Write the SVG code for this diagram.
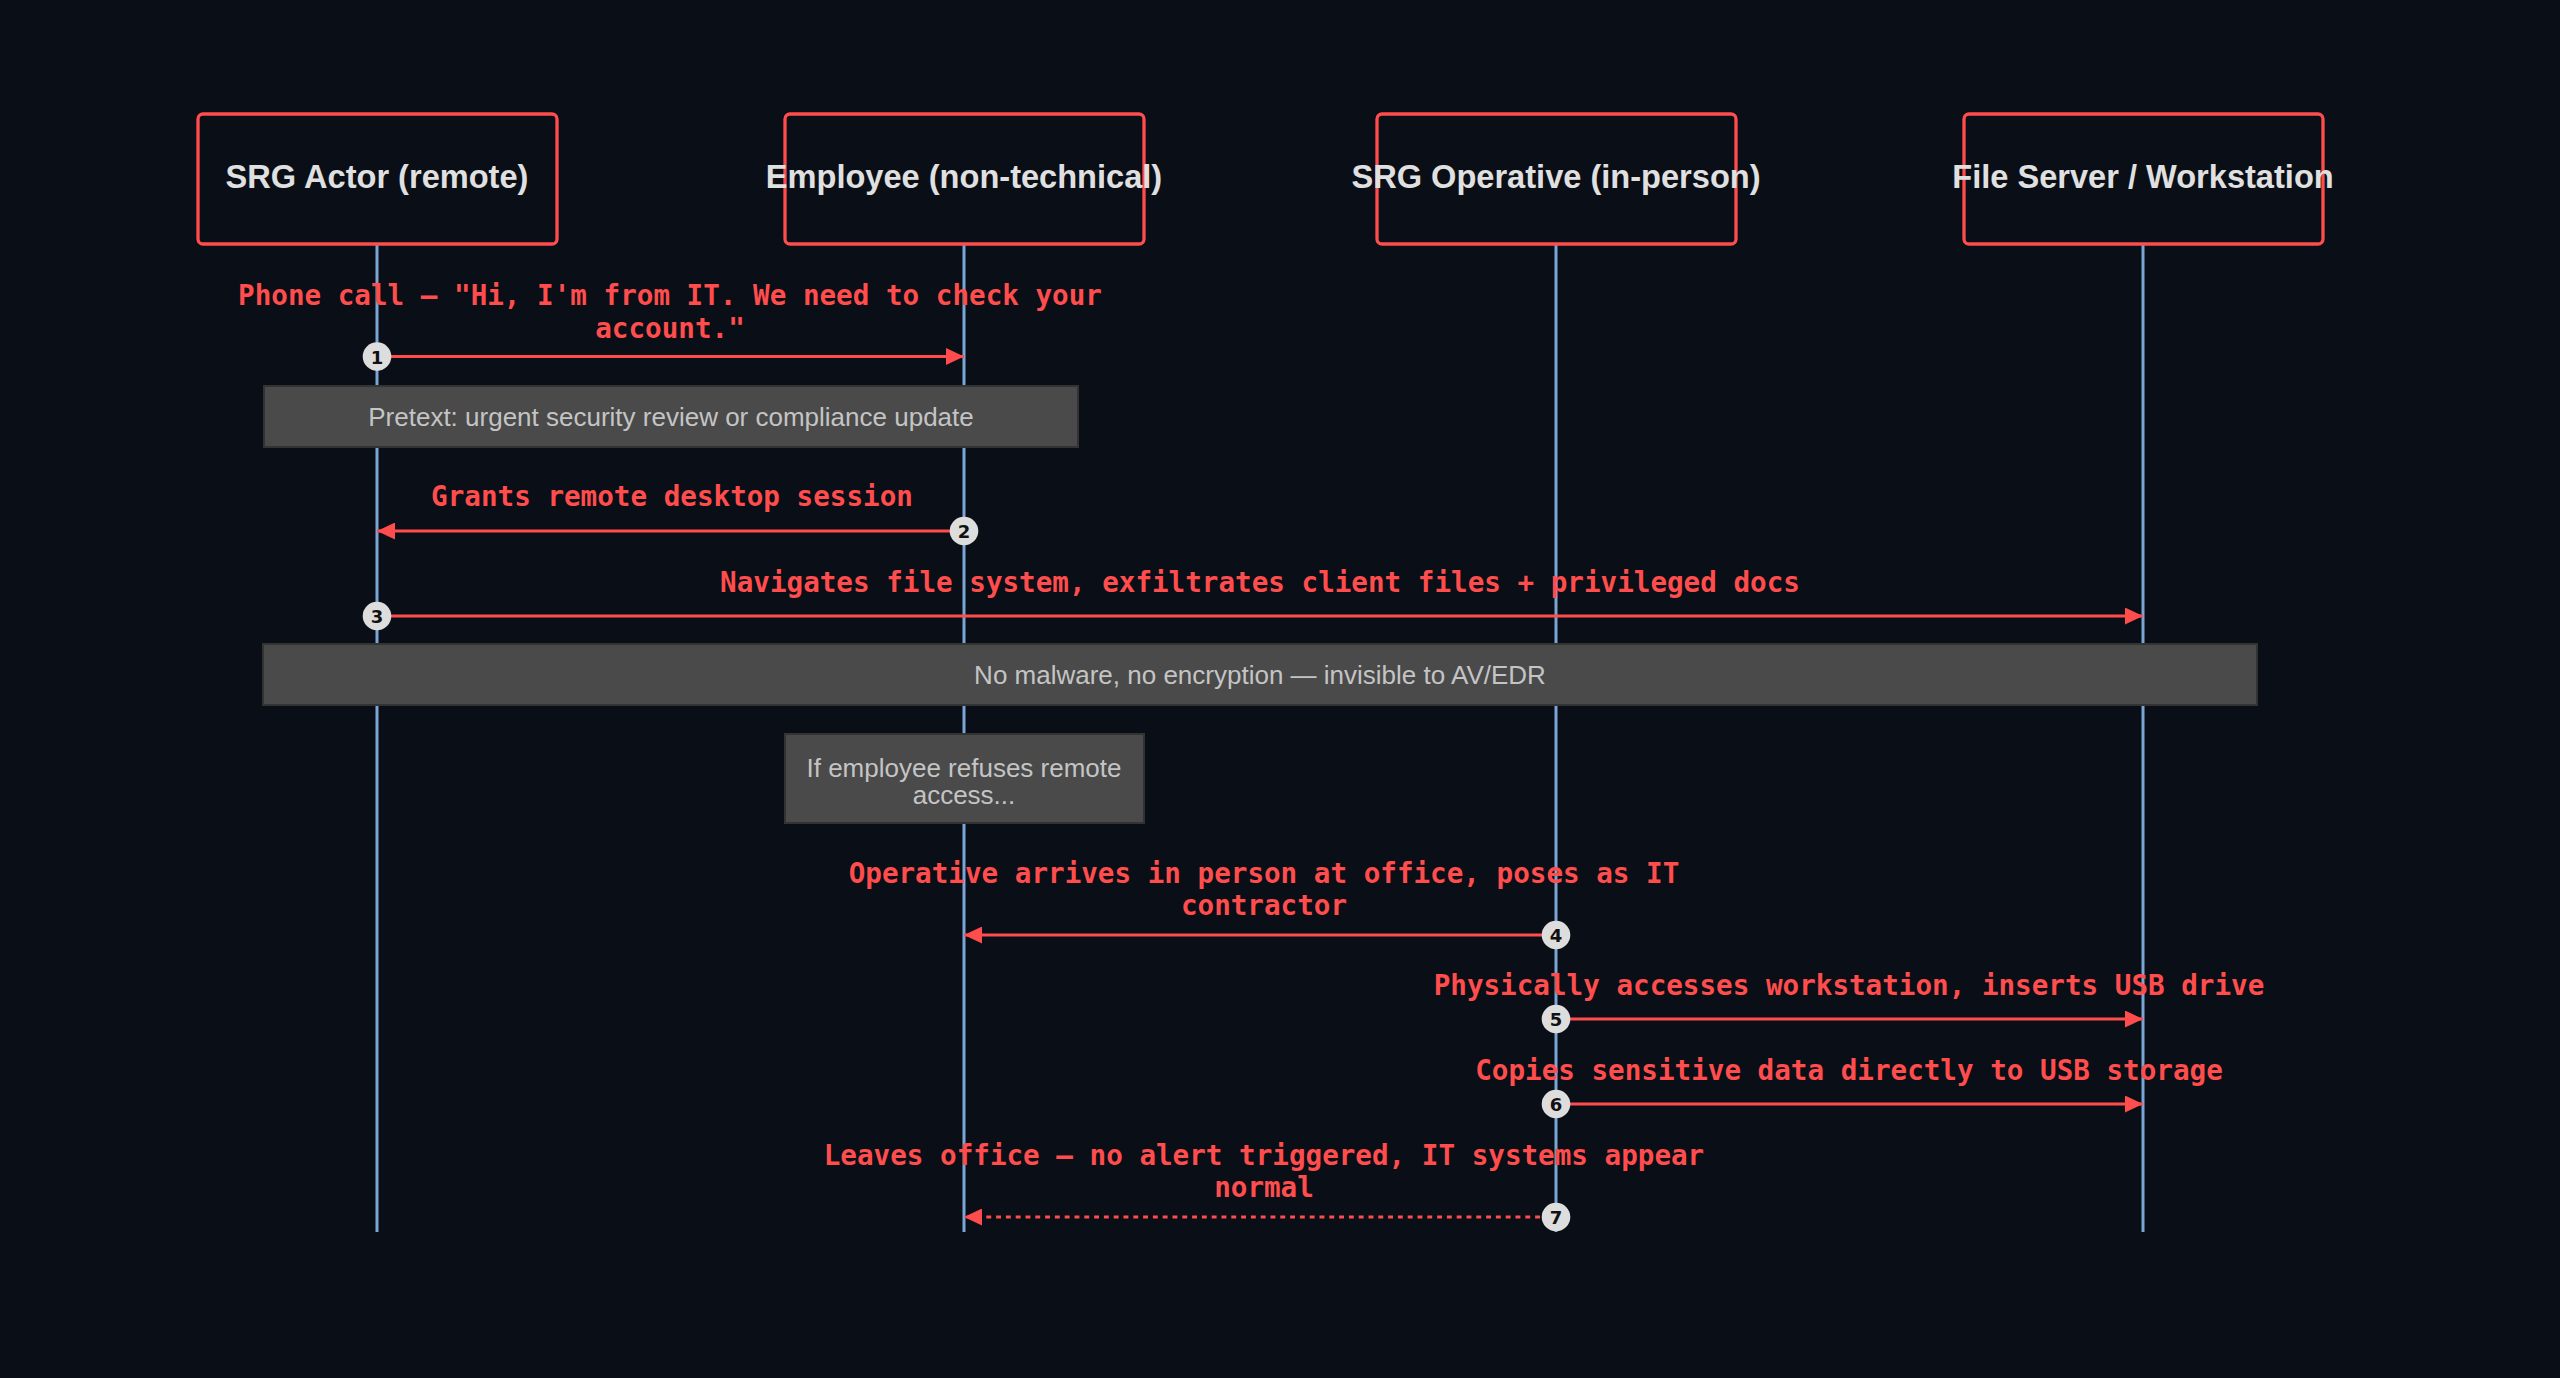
<svg xmlns="http://www.w3.org/2000/svg" width="2560" height="1378" viewBox="0 0 2560 1378">
<defs>
<style>
.bg{fill:#0a0e16}
.actor rect{fill:#0a0e16;stroke:#ff4d4d;stroke-width:3.3}
.actor text{font-family:"Liberation Sans",Arial,sans-serif;font-weight:bold;font-size:32.6px;fill:#e0e0e0;text-anchor:middle;dominant-baseline:central}
.life{stroke:#7aa6d6;stroke-width:3}
.msg{stroke:#ff4d4d;stroke-width:3;fill:none}
.dotted{stroke-dasharray:4.9,4.9}
.mtext{font-family:"DejaVu Sans Mono","Liberation Mono",monospace;font-weight:bold;font-size:27.6px;fill:#ff4d4d;text-anchor:middle;dominant-baseline:central}
.note rect{fill:#4a4a4a;stroke:#333333;stroke-width:2}
.note text{font-family:"Liberation Sans",Arial,sans-serif;font-size:26px;fill:#c4c4c4;text-anchor:middle;dominant-baseline:central}
.seq circle{fill:#dddddd}
.seq text{font-family:"DejaVu Sans","Liberation Sans",sans-serif;font-weight:bold;font-size:18px;fill:#111111;text-anchor:middle;dominant-baseline:central}
</style>
<marker id="ah" markerUnits="userSpaceOnUse" markerWidth="18" markerHeight="17" refX="18" refY="8.5" orient="auto">
<path d="M0,0 L18,8.5 L0,17 z" fill="#ff4d4d"/>
</marker>
</defs>
<rect class="bg" x="0" y="0" width="2560" height="1378"/>
<g id="lifelines">
<line class="life" x1="377" y1="244" x2="377" y2="1232"/>
<line class="life" x1="964" y1="244" x2="964" y2="1232"/>
<line class="life" x1="1556" y1="244" x2="1556" y2="1232"/>
<line class="life" x1="2143" y1="244" x2="2143" y2="1232"/>
</g>
<g id="actor-srg" class="actor"><rect x="198" y="114" width="359" height="130" rx="5"/><text x="377" y="176">SRG Actor (remote)</text></g>
<g id="actor-employee" class="actor"><rect x="785" y="114" width="359" height="130" rx="5"/><text x="964" y="176">Employee (non-technical)</text></g>
<g id="actor-operative" class="actor"><rect x="1377" y="114" width="359" height="130" rx="5"/><text x="1556" y="176">SRG Operative (in-person)</text></g>
<g id="actor-fileserver" class="actor"><rect x="1964" y="114" width="359" height="130" rx="5"/><text x="2143" y="176">File Server / Workstation</text></g>
<g id="note-pretext" class="note"><rect x="264" y="386" width="814" height="61"/><text x="671" y="417">Pretext: urgent security review or compliance update</text></g>
<g id="note-nomalware" class="note"><rect x="263" y="644" width="1994" height="61"/><text x="1260" y="675">No malware, no encryption — invisible to AV/EDR</text></g>
<g id="note-refuses" class="note"><rect x="785" y="734" width="359" height="89"/><text x="964" y="768">If employee refuses remote</text><text x="964" y="795">access...</text></g>
<g id="connectors">
<line class="msg" x1="377" y1="356.5" x2="964" y2="356.5" marker-end="url(#ah)"/>
<line class="msg" x1="964" y1="531" x2="377" y2="531" marker-end="url(#ah)"/>
<line class="msg" x1="377" y1="616" x2="2143" y2="616" marker-end="url(#ah)"/>
<line class="msg" x1="1556" y1="935" x2="964" y2="935" marker-end="url(#ah)"/>
<line class="msg" x1="1556" y1="1019" x2="2143" y2="1019" marker-end="url(#ah)"/>
<line class="msg" x1="1556" y1="1104" x2="2143" y2="1104" marker-end="url(#ah)"/>
<line class="msg dotted" x1="1540" y1="1217" x2="964" y2="1217" marker-end="url(#ah)"/>
</g>
<g id="message-labels">
<text class="mtext" x="670" y="295">Phone call — "Hi, I'm from IT. We need to check your</text>
<text class="mtext" x="670" y="328">account."</text>
<text class="mtext" x="672" y="496">Grants remote desktop session</text>
<text class="mtext" x="1260" y="582">Navigates file system, exfiltrates client files + privileged docs</text>
<text class="mtext" x="1264" y="873">Operative arrives in person at office, poses as IT</text>
<text class="mtext" x="1264" y="905">contractor</text>
<text class="mtext" x="1849" y="985">Physically accesses workstation, inserts USB drive</text>
<text class="mtext" x="1849" y="1070">Copies sensitive data directly to USB storage</text>
<text class="mtext" x="1264" y="1155">Leaves office — no alert triggered, IT systems appear</text>
<text class="mtext" x="1264" y="1187">normal</text>
</g>
<g id="sequence-numbers" class="seq">
<circle cx="377" cy="356.5" r="14.3"/><text x="377" y="357">1</text>
<circle cx="964" cy="531" r="14.3"/><text x="964" y="531.5">2</text>
<circle cx="377" cy="616" r="14.3"/><text x="377" y="616.5">3</text>
<circle cx="1556" cy="935" r="14.3"/><text x="1556" y="935.5">4</text>
<circle cx="1556" cy="1019" r="14.3"/><text x="1556" y="1019.5">5</text>
<circle cx="1556" cy="1104" r="14.3"/><text x="1556" y="1104.5">6</text>
<circle cx="1556" cy="1217" r="14.3"/><text x="1556" y="1217.5">7</text>
</g>
</svg>
